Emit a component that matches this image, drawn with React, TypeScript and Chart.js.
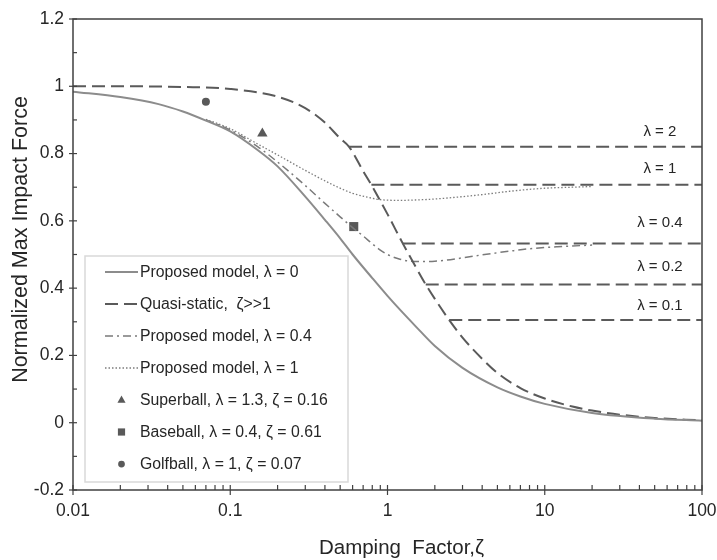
import React, { useEffect, useRef } from 'react';
import { Chart, registerables } from 'chart.js';

Chart.register(...registerables);

const FONT = '"Liberation Sans", Arial, Helvetica, sans-serif';
const INK = '#262626';

// Proposed model, lambda = 0 (solid)
const zetaLambda0 = [0.01, 0.02, 0.035, 0.05, 0.07, 0.1, 0.15, 0.2, 0.3, 0.4, 0.5, 0.6, 0.8, 1, 1.2, 1.5, 2, 3, 5, 7, 10, 20, 50, 100];
const forceLambda0 = [0.984, 0.968, 0.947, 0.925, 0.898, 0.866, 0.81, 0.762, 0.672, 0.603, 0.548, 0.5, 0.43, 0.377, 0.336, 0.288, 0.228, 0.163, 0.105, 0.078, 0.056, 0.029, 0.012, 0.006];

// Quasi-static (long dashes)
const zetaQuasi = [0.01, 0.02, 0.05, 0.1, 0.2, 0.3, 0.4, 0.5, 0.57, 0.7, 0.79, 1, 1.25, 1.5, 1.75, 2, 2.47, 3, 4, 5, 7, 10, 15, 20, 30, 50, 100];
const forceQuasi = [1.0, 1.0, 0.998, 0.992, 0.969, 0.935, 0.892, 0.845, 0.82, 0.748, 0.707, 0.62, 0.533, 0.466, 0.411, 0.368, 0.305, 0.253, 0.19, 0.148, 0.103, 0.072, 0.048, 0.036, 0.024, 0.014, 0.007];

// Proposed model, lambda = 0.4 (dash-dot)
const zetaLambda04 = [0.07, 0.1, 0.15, 0.2, 0.3, 0.4, 0.5, 0.6, 0.7, 0.8, 0.9, 1, 1.2, 1.5, 2, 3, 4, 6, 8, 12, 20];
const forceLambda04 = [0.9, 0.87, 0.82, 0.775, 0.705, 0.652, 0.612, 0.58, 0.555, 0.532, 0.513, 0.5, 0.486, 0.479, 0.48, 0.49, 0.499, 0.51, 0.517, 0.523, 0.528];

// Proposed model, lambda = 1 (dotted)
const zetaLambda1 = [0.07, 0.1, 0.15, 0.2, 0.3, 0.45, 0.6, 0.75, 0.9, 1.2, 1.5, 2, 3, 4, 6, 10, 15, 20];
const forceLambda1 = [0.902, 0.874, 0.828, 0.796, 0.75, 0.707, 0.682, 0.67, 0.663, 0.661, 0.662, 0.665, 0.672, 0.678, 0.688, 0.697, 0.7, 0.702];

// Horizontal quasi-static levels
const levelLabels = ['λ = 2', 'λ = 1', 'λ = 0.4', 'λ = 0.2', 'λ = 0.1'];
const levelForce = [0.82, 0.707, 0.533, 0.411, 0.305];
const levelStartZeta = [0.57, 0.79, 1.25, 1.75, 2.47];
const levelEndZeta = 100;
const levelLabelZeta = 54;
const levelLabelForce = [0.866, 0.754, 0.594, 0.464, 0.346];

// Measured balls
const ballNames = ['Superball, λ = 1.3, ζ = 0.16', 'Baseball, λ = 0.4, ζ = 0.61', 'Golfball, λ = 1, ζ = 0.07'];
const ballZeta = [0.16, 0.61, 0.07];
const ballForce = [0.86, 0.583, 0.954];
const ballMarkers = ['triangle', 'rect', 'circle'];

const lineNames = ['Proposed model, λ = 0', 'Quasi-static,  ζ>>1', 'Proposed model, λ = 0.4', 'Proposed model, λ = 1'];

const xTickValues = [0.01, 0.1, 1, 10, 100];
const xTickLabels = ['0.01', '0.1', '1', '10', '100'];
const yTickValues = [-0.2, 0, 0.2, 0.4, 0.6, 0.8, 1, 1.2];
const yTickLabels = ['-0.2', '0', '0.2', '0.4', '0.6', '0.8', '1', '1.2'];

const xTitle = 'Damping  Factor,ζ';
const yTitle = 'Normalized Max Impact Force';

const pts = (xs: number[], ys: number[]) => xs.map((x, i) => ({ x, y: ys[i] }));

function drawMarker(ctx: CanvasRenderingContext2D, style: string, x: number, y: number, r: number) {
  ctx.beginPath();
  if (style === 'triangle') {
    ctx.moveTo(x, y - r);
    ctx.lineTo(x + r * 0.9, y + r * 0.6);
    ctx.lineTo(x - r * 0.9, y + r * 0.6);
    ctx.closePath();
  } else if (style === 'rect') {
    ctx.rect(x - r * 0.8, y - r * 0.8, r * 1.6, r * 1.6);
  } else {
    ctx.arc(x, y, r * 0.75, 0, Math.PI * 2);
  }
  ctx.fill();
}

const overlayPlugin = {
  id: 'overlay',
  afterDatasetsDraw(chart: any) {
    const { ctx, chartArea, scales } = chart;
    const xs = scales.x;
    const ys = scales.y;
    const { left, right, top, bottom } = chartArea;
    ctx.save();

    // level labels
    ctx.fillStyle = INK;
    ctx.font = `15px ${FONT}`;
    ctx.textAlign = 'center';
    ctx.textBaseline = 'middle';
    levelLabels.forEach((t, i) => {
      ctx.fillText(t, xs.getPixelForValue(levelLabelZeta), ys.getPixelForValue(levelLabelForce[i]));
    });

    // axis titles
    ctx.font = `20.5px ${FONT}`;
    ctx.fillText(xTitle, (left + right) / 2 + 14, 548);
    ctx.save();
    ctx.translate(21, (top + bottom) / 2 - 15);
    ctx.rotate(-Math.PI / 2);
    ctx.font = `21.5px ${FONT}`;
    ctx.fillText(yTitle, 0, 0);
    ctx.restore();

    // legend box
    const bx = left + 12;
    const by = 256;
    const bw = 263;
    const bh = 226;
    ctx.fillStyle = '#ffffff';
    ctx.fillRect(bx, by, bw, bh);
    ctx.strokeStyle = '#d9d9d9';
    ctx.lineWidth = 1.5;
    ctx.setLineDash([]);
    ctx.strokeRect(bx, by, bw, bh);
    const items = chart.data.datasets.filter((d: any) => d.inLegend);
    items.forEach((d: any, i: number) => {
      const y = by + 16 + i * 32;
      const sx0 = bx + 20;
      const sx1 = bx + 53;
      if (d.showLine) {
        ctx.beginPath();
        ctx.setLineDash(d.borderDash || []);
        ctx.strokeStyle = d.borderColor;
        ctx.lineWidth = d.borderWidth;
        ctx.moveTo(sx0, y);
        ctx.lineTo(sx1, y);
        ctx.stroke();
        ctx.setLineDash([]);
      } else {
        ctx.fillStyle = d.backgroundColor;
        drawMarker(ctx, d.pointStyle, (sx0 + sx1) / 2, y, 4.5);
      }
      ctx.fillStyle = INK;
      ctx.font = `15.8px ${FONT}`;
      ctx.textAlign = 'left';
      ctx.textBaseline = 'middle';
      ctx.fillText(d.label, sx1 + 2, y + 1);
    });

    // frame
    ctx.strokeStyle = '#404040';
    ctx.lineWidth = 1.5;
    ctx.strokeRect(left, top, right - left, bottom - top);

    // y ticks
    ctx.lineWidth = 1.2;
    yTickValues.forEach((v, i) => {
      const py = ys.getPixelForValue(v);
      ctx.beginPath();
      ctx.moveTo(left - 4, py);
      ctx.lineTo(left + 4, py);
      ctx.stroke();
      if (i < yTickValues.length - 1) {
        const pm = ys.getPixelForValue((v + yTickValues[i + 1]) / 2);
        ctx.beginPath();
        ctx.moveTo(left, pm);
        ctx.lineTo(left + 4, pm);
        ctx.stroke();
      }
    });
    // x ticks
    xTickValues.forEach((v, i) => {
      const px = xs.getPixelForValue(v);
      ctx.beginPath();
      ctx.moveTo(px, bottom - 5);
      ctx.lineTo(px, bottom + 5);
      ctx.stroke();
      if (i < xTickValues.length - 1) {
        for (let k = 2; k <= 9; k++) {
          const pm = xs.getPixelForValue(v * k);
          ctx.beginPath();
          ctx.moveTo(pm, bottom - 5);
          ctx.lineTo(pm, bottom);
          ctx.stroke();
        }
      }
    });
    ctx.restore();
  },
};

export default function App() {
  const ref = useRef<HTMLCanvasElement>(null);

  useEffect(() => {
    const canvas = ref.current;
    if (!canvas) return;

    const quasiStyle = { borderColor: '#5a5a5a', borderWidth: 2, borderDash: [13, 6] };

    const datasets: any[] = [
      {
        label: lineNames[0], inLegend: true, data: pts(zetaLambda0, forceLambda0), showLine: true,
        borderColor: '#8c8c8c', borderWidth: 2, borderDash: [], pointRadius: 0, cubicInterpolationMode: 'monotone',
      },
      {
        label: lineNames[1], inLegend: true, data: pts(zetaQuasi, forceQuasi), showLine: true,
        ...quasiStyle, pointRadius: 0, cubicInterpolationMode: 'monotone',
      },
      {
        label: lineNames[2], inLegend: true, data: pts(zetaLambda04, forceLambda04), showLine: true,
        borderColor: '#7a7a7a', borderWidth: 1.5, borderDash: [8, 4, 2, 4], pointRadius: 0, cubicInterpolationMode: 'monotone',
      },
      {
        label: lineNames[3], inLegend: true, data: pts(zetaLambda1, forceLambda1), showLine: true,
        borderColor: '#7c7c7c', borderWidth: 1.3, borderDash: [1.5, 2], pointRadius: 0, cubicInterpolationMode: 'monotone',
      },
      ...levelForce.map((f, i) => ({
        label: levelLabels[i], inLegend: false,
        data: [{ x: levelStartZeta[i], y: f }, { x: levelEndZeta, y: f }],
        showLine: true, ...quasiStyle, pointRadius: 0,
      })),
      ...ballNames.map((n, i) => ({
        label: n, inLegend: true, data: [{ x: ballZeta[i], y: ballForce[i] }], showLine: false,
        pointStyle: ballMarkers[i], pointRadius: ballMarkers[i] === 'circle' ? 4 : ballMarkers[i] === 'rect' ? 6.4 : 6,
        backgroundColor: '#595959', borderColor: '#595959', borderWidth: 0,
      })),
    ];

    const chart = new Chart(canvas, {
      type: 'scatter',
      data: { datasets },
      options: {
        animation: false,
        responsive: false,
        devicePixelRatio: 1,
        layout: { padding: { left: 0, top: 19, right: 15, bottom: 0 } },
        plugins: { legend: { display: false }, tooltip: { enabled: false } },
        scales: {
          x: {
            type: 'logarithmic',
            min: 0.01,
            max: 100,
            grid: { display: false, drawTicks: false },
            border: { display: false },
            afterBuildTicks: (s: any) => { s.ticks = xTickValues.map((v) => ({ value: v })); },
            afterFit: (s: any) => { s.height = 70; s.paddingLeft = 0; s.paddingRight = 0; },
            ticks: {
              autoSkip: false, maxRotation: 0, padding: 11, color: INK,
              font: { family: FONT, size: 17.5 },
              callback: (_v: any, i: number) => xTickLabels[i],
            },
            title: { display: false },
          },
          y: {
            type: 'linear',
            min: -0.2,
            max: 1.2,
            grid: { display: false, drawTicks: false },
            border: { display: false },
            afterBuildTicks: (s: any) => { s.ticks = yTickValues.map((v) => ({ value: v })); },
            afterFit: (s: any) => { s.width = 73; s.paddingTop = 0; s.paddingBottom = 0; },
            ticks: {
              autoSkip: false, padding: 9, color: INK,
              font: { family: FONT, size: 17.5 },
              callback: (_v: any, i: number) => yTickLabels[i],
            },
            title: { display: false },
          },
        },
      },
      plugins: [overlayPlugin],
    } as any);

    return () => chart.destroy();
  }, []);

  return (
    <div style={{ position: 'absolute', left: 0, top: 0, width: 717, height: 560, background: '#ffffff' }}>
      <canvas ref={ref} width={717} height={560} style={{ display: 'block', width: 717, height: 560 }} />
    </div>
  );
}
